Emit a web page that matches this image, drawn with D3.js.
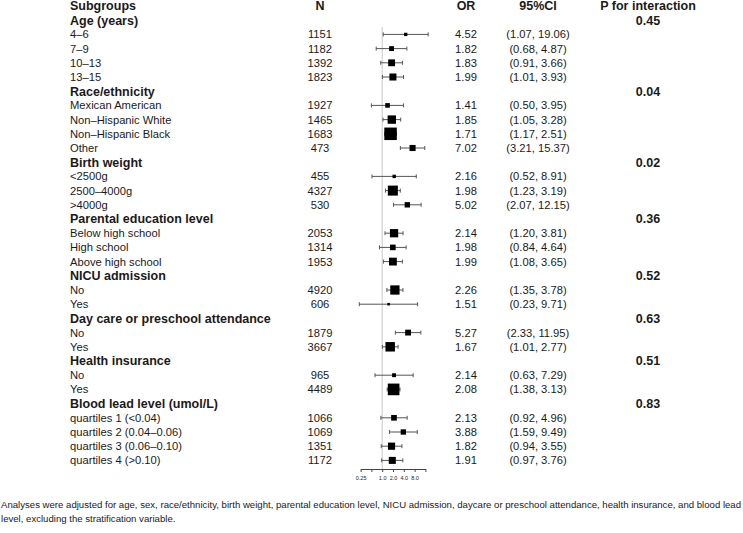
<!DOCTYPE html>
<html>
<head>
<meta charset="utf-8">
<script src="https://cdn.jsdelivr.net/npm/d3@7"></script>
<style>
  body { margin: 0; background: #fff; }
  svg { display: block; }
  text { font-family: "Liberation Sans", Arial, sans-serif; fill: #1a1a1a; }
</style>
</head>
<body>
<div id="canvas"></div>
<script>
// group headers and their p for interaction
const groups = ["Age (years)", "Race/ethnicity", "Birth weight", "Parental education level",
  "NICU admission", "Day care or preschool attendance", "Health insurance", "Blood lead level (umol/L)"];
const pInteraction = ["0.45", "0.04", "0.02", "0.36", "0.52", "0.63", "0.51", "0.83"];

// subgroup rows
const subgroups = ["4–6", "7–9", "10–13", "13–15",
  "Mexican American", "Non–Hispanic White", "Non–Hispanic Black", "Other",
  "<2500g", "2500–4000g", ">4000g",
  "Below high school", "High school", "Above high school",
  "No", "Yes",
  "No", "Yes",
  "No", "Yes",
  "quartiles 1 (<0.04)", "quartiles 2 (0.04–0.06)", "quartiles 3 (0.06–0.10)", "quartiles 4 (>0.10)"];
const groupOf = [0, 0, 0, 0, 1, 1, 1, 1, 2, 2, 2, 3, 3, 3, 4, 4, 5, 5, 6, 6, 7, 7, 7, 7];
const nValues = [1151, 1182, 1392, 1823, 1927, 1465, 1683, 473, 455, 4327, 530,
  2053, 1314, 1953, 4920, 606, 1879, 3667, 965, 4489, 1066, 1069, 1351, 1172];
const orValues = [4.52, 1.82, 1.83, 1.99, 1.41, 1.85, 1.71, 7.02, 2.16, 1.98, 5.02,
  2.14, 1.98, 1.99, 2.26, 1.51, 5.27, 1.67, 2.14, 2.08, 2.13, 3.88, 1.82, 1.91];
const ciLow = [1.07, 0.68, 0.91, 1.01, 0.50, 1.05, 1.17, 3.21, 0.52, 1.23, 2.07,
  1.20, 0.84, 1.08, 1.35, 0.23, 2.33, 1.01, 0.63, 1.38, 0.92, 1.59, 0.94, 0.97];
const ciHigh = [19.06, 4.87, 3.66, 3.93, 3.95, 3.28, 2.51, 15.37, 8.91, 3.19, 12.15,
  3.81, 4.64, 3.65, 3.78, 9.71, 11.95, 2.77, 7.29, 3.13, 4.96, 9.49, 3.55, 3.76];

const axisTicks = [0.25, 0.5, 1, 2, 4, 8, 16];
const axisLabels = ["0.25", "", "1.0", "2.0", "4.0", "8.0", ""];

const footnote = [
  "Analyses were adjusted for age, sex, race/ethnicity, birth weight, parental education level, NICU admission, daycare or preschool attendance, health insurance, and blood lead",
  "level, excluding the stratification variable."
];

const width = 743;
const height = 533;

// build the row list: header, then each group followed by its subgroups
const rows = [{ type: "head" }];
groups.forEach((g, gi) => {
  rows.push({ type: "group", label: g, p: pInteraction[gi] });
  subgroups.forEach((s, i) => {
    if (groupOf[i] === gi) {
      rows.push({ type: "sub", label: s, n: nValues[i], or: orValues[i], lo: ciLow[i], hi: ciHigh[i] });
    }
  });
});

const svg = d3.select("#canvas").append("svg").attr("width", width).attr("height", height);

const y = d3.scalePoint().domain(d3.range(rows.length)).range([6, 460.4]);
const x = d3.scaleLog().base(2).domain([0.25, 16]).range([360.6, 425.4]);

const colLabel = 70, colN = 320, colOR = 466, colCI = 538, colP = 648;

// box size from precision (inverse of log CI width)
const subs = rows.filter((r) => r.type === "sub");
const prec = (r) => 1 / Math.log(r.hi / r.lo);
const box = d3.scaleLinear().domain([0, d3.max(subs, prec)]).range([0, 12.5]);

// header
const head = svg.append("g").attr("font-weight", "bold").attr("font-size", 12.5);
head.append("text").attr("x", colLabel).attr("y", y(0)).attr("dy", "0.35em").text("Subgroups");
head.append("text").attr("x", colN).attr("y", y(0)).attr("dy", "0.35em").attr("text-anchor", "middle").text("N");
head.append("text").attr("x", colOR).attr("y", y(0)).attr("dy", "0.35em").attr("text-anchor", "middle").text("OR");
head.append("text").attr("x", colCI).attr("y", y(0)).attr("dy", "0.35em").attr("text-anchor", "middle").text("95%CI");
head.append("text").attr("x", colP).attr("y", y(0)).attr("dy", "0.35em").attr("text-anchor", "middle").text("P for interaction");

// reference line at OR = 1
svg.append("line")
  .attr("x1", x(1)).attr("x2", x(1))
  .attr("y1", 27).attr("y2", 469)
  .attr("stroke", "#c8c8c8").attr("stroke-width", 1);

const g = svg.append("g");
rows.forEach((r, i) => {
  if (r.type === "group") {
    g.append("text").attr("x", colLabel).attr("y", y(i)).attr("dy", "0.35em")
      .attr("font-weight", "bold").attr("font-size", 12.5).text(r.label);
    g.append("text").attr("x", colP).attr("y", y(i)).attr("dy", "0.35em")
      .attr("text-anchor", "middle").attr("font-weight", "bold").attr("font-size", 12.5).text(r.p);
  } else if (r.type === "sub") {
    const cy = y(i);
    g.append("text").attr("x", colLabel).attr("y", cy).attr("dy", "0.35em").attr("font-size", 11.2).text(r.label);
    g.append("text").attr("x", colN).attr("y", cy).attr("dy", "0.35em").attr("text-anchor", "middle")
      .attr("font-size", 11.2).text(r.n);
    g.append("text").attr("x", colOR).attr("y", cy).attr("dy", "0.35em").attr("text-anchor", "middle")
      .attr("font-size", 11.2).text(r.or.toFixed(2));
    g.append("text").attr("x", colCI).attr("y", cy).attr("dy", "0.35em").attr("text-anchor", "middle")
      .attr("font-size", 11.2).text(`(${r.lo.toFixed(2)}, ${r.hi.toFixed(2)})`);

    g.append("line").attr("x1", x(r.lo)).attr("x2", x(r.hi)).attr("y1", cy).attr("y2", cy)
      .attr("stroke", "#555").attr("stroke-width", 1);
    [r.lo, r.hi].forEach((v) => {
      g.append("line").attr("x1", x(v)).attr("x2", x(v)).attr("y1", cy - 2).attr("y2", cy + 2)
        .attr("stroke", "#555").attr("stroke-width", 1);
    });
    const s = box(prec(r));
    g.append("rect").attr("x", x(r.or) - s / 2).attr("y", cy - s / 2)
      .attr("width", s).attr("height", s).attr("fill", "#000");
  }
});

// x axis
const axis = svg.append("g").attr("transform", "translate(0,469)")
  .call(d3.axisBottom(x).tickValues(axisTicks).tickSize(3).tickSizeOuter(0)
    .tickFormat((d, i) => axisLabels[i]));
axis.select(".domain").attr("stroke", "#444");
axis.selectAll(".tick line").attr("stroke", "#444");
axis.selectAll(".tick text").attr("font-size", 5.5).attr("fill", "#444").attr("dy", "0.9em");

// footnote
svg.append("g").selectAll("text").data(footnote).enter().append("text")
  .attr("x", 1).attr("y", (d, i) => 505 + i * 14).attr("dy", "0.35em")
  .attr("font-family", "'Liberation Sans Narrow', 'DejaVu Sans Condensed', sans-serif")
  .attr("font-size", 9.6).attr("fill", "#333")
  .text((d) => d);
</script>
</body>
</html>
